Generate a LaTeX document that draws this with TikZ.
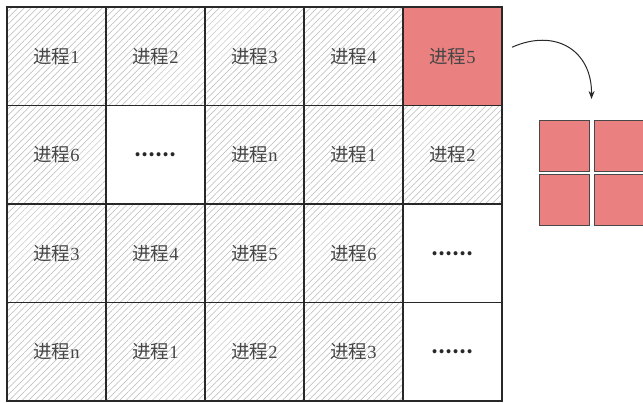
\documentclass[tikz,border=0pt]{standalone}
\usepackage{fontspec}
\setmainfont{Liberation Serif}
\newfontfamily\cjk{Noto Sans CJK SC}
\usetikzlibrary{patterns.meta,arrows.meta}
\definecolor{cellred}{RGB}{234,128,128}
\definecolor{gridline}{RGB}{40,40,40}
\definecolor{hatch}{RGB}{185,185,185}
\definecolor{txt}{RGB}{70,70,70}
\newcommand{\jc}[1]{{\cjk 进程}#1}
\newcommand{\dotsix}{{\cjk\bfseries\color{gridline}……}}
\begin{document}
\begin{tikzpicture}[x=1pt,y=-1pt,
  cellbox/.style={draw=gridline,line width=1.1pt,minimum width=99pt,minimum height=98.5pt,inner sep=0pt,outer sep=0pt,text=txt,font=\fontsize{18.5}{20}\selectfont},
  hatched/.style={cellbox,fill=white,postaction={pattern={Lines[angle=45,distance=4.6pt,line width=0.5pt]},pattern color=hatch}},
  plain/.style={cellbox,fill=white},
  redcell/.style={cellbox,fill=cellred},
  sq/.style={draw=gridline!85,line width=0.9pt,fill=cellred,minimum width=50pt,minimum height=51pt,inner sep=0pt,outer sep=0pt}]
\useasboundingbox (0,0) rectangle (643,403);
\fill[white] (0,0) rectangle (643,403);
% row 1
\node[hatched] (c11) at (56.5,56.25) {\jc{1}};
\node[hatched] (c12) at (155.5,56.25) {\jc{2}};
\node[hatched] (c13) at (254.5,56.25) {\jc{3}};
\node[hatched] (c14) at (353.5,56.25) {\jc{4}};
\node[redcell] (c15) at (452.5,56.25) {\jc{5}};
% row 2
\node[hatched] (c21) at (56.5,154.75) {\jc{6}};
\node[plain] (c22) at (155.5,154.75) {\dotsix};
\node[hatched] (c23) at (254.5,154.75) {\jc{n}};
\node[hatched] (c24) at (353.5,154.75) {\jc{1}};
\node[hatched] (c25) at (452.5,154.75) {\jc{2}};
% row 3
\node[hatched] (c31) at (56.5,253.25) {\jc{3}};
\node[hatched] (c32) at (155.5,253.25) {\jc{4}};
\node[hatched] (c33) at (254.5,253.25) {\jc{5}};
\node[hatched] (c34) at (353.5,253.25) {\jc{6}};
\node[plain] (c35) at (452.5,253.25) {\dotsix};
% row 4
\node[hatched] (c41) at (56.5,351.75) {\jc{n}};
\node[hatched] (c42) at (155.5,351.75) {\jc{1}};
\node[hatched] (c43) at (254.5,351.75) {\jc{2}};
\node[hatched] (c44) at (353.5,351.75) {\jc{3}};
\node[plain] (c45) at (452.5,351.75) {\dotsix};
% grid lines redrawn on top of the hatching
\foreach \r in {1,2,3,4}{\foreach \c in {1,2,3,4,5}{
  \draw[gridline,line width=1.1pt] (c\r\c.north west) rectangle (c\r\c.south east);}}
% squares
\node[sq] (s11) at (564,145.5) {};
\node[sq] (s12) at (619,145.5) {};
\node[sq] (s21) at (564,199.5) {};
\node[sq] (s22) at (619,199.5) {};
% arrow
\coordinate (as) at ([xshift=10pt,yshift=9pt]c15.east);
\coordinate (ae) at ([xshift=2.5pt,yshift=21pt]s11.north east);
\draw[gridline,line width=1pt,-{Stealth[length=8pt,width=6pt]}] (as) .. controls (555,28) and (592,50) .. (ae);
\end{tikzpicture}
\end{document}
